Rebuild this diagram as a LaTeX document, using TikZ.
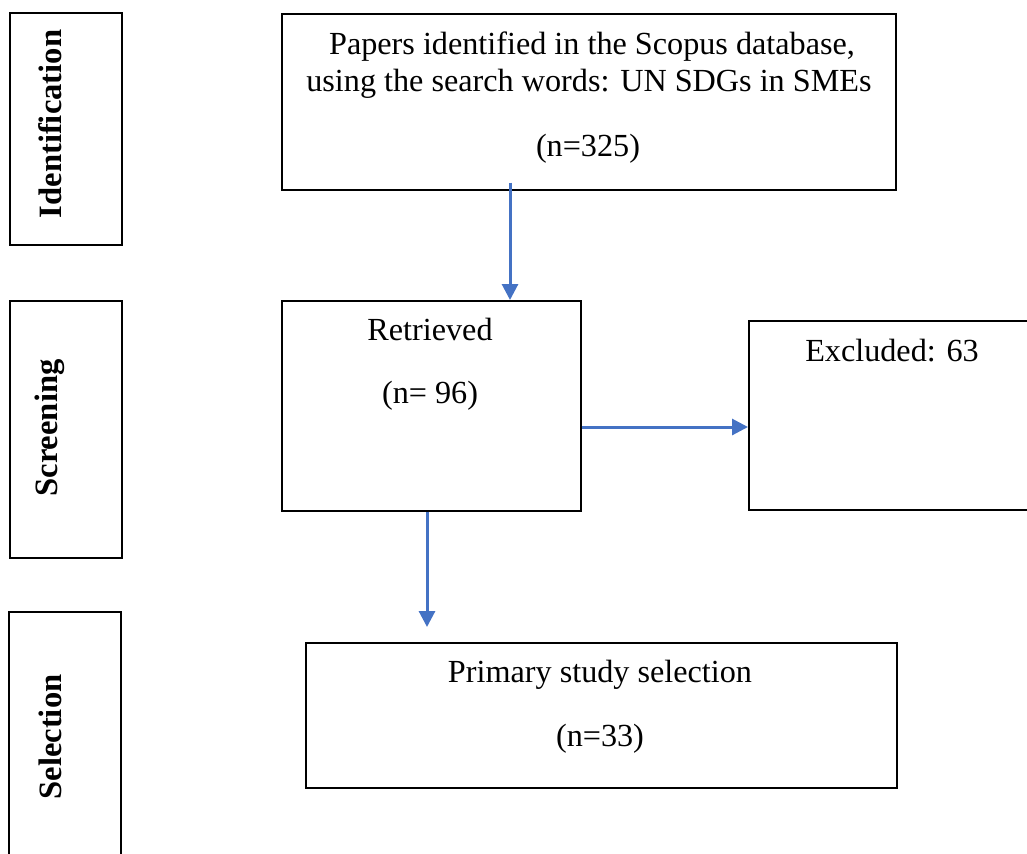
\documentclass[tikz,border=0pt]{standalone}
\usepackage{fontspec}
\setmainfont{Liberation Serif}
\usetikzlibrary{arrows.meta}
\definecolor{arrblue}{RGB}{68,114,196}
\begin{document}
\begin{tikzpicture}[x=0.5pt,y=-0.5pt,
  box/.style={draw, line width=0.75pt, inner sep=0pt, anchor=north west},
  txt/.style={font=\fontsize{16.1}{19}\selectfont, inner sep=0pt, anchor=base},
  side/.style={font=\fontsize{16.3}{19}\selectfont\bfseries, inner sep=0pt, rotate=90},
  arr/.style={draw=arrblue, line width=1.5pt, -{Triangle[length=8pt,width=8pt]}}]
\useasboundingbox (0,0) rectangle (1027,853);
% side boxes
\node[box, minimum width=56pt, minimum height=116pt] (idb) at (9,12) {};
\node[box, minimum width=56pt, minimum height=128.5pt] (scb) at (9,300) {};
\draw[line width=0.75pt] (9,860) -- (9,612) -- (121,612) -- (121,860);
\node[side] (idt) at (50,124) {Identification};
\node[side] (sct) at (50,428) {Screening};
\node[side] (set) at (50,737) {Selection};
% main boxes
\node[box, minimum width=307pt, minimum height=88pt] (papers) at (281,13) {};
\node[box, minimum width=149.5pt, minimum height=105pt] (retr) at (281,300) {};
\node[box, minimum width=141pt, minimum height=94.5pt] (excl) at (748,320) {};
\node[box, minimum width=295.5pt, minimum height=72.5pt] (prim) at (305,642) {};
% texts
\node[txt] (p1) at (592,54) {Papers identified in the Scopus database,};
\node[txt] (p2) at (589,91) {using the search words: UN SDGs in SMEs};
\node[txt] (p3) at (588,156) {(n=325)};
\node[txt] (r1) at (430,340) {Retrieved};
\node[txt] (r2) at (430,403) {(n= 96)};
\node[txt] (e1) at (892,361) {Excluded: 63};
\node[txt] (s1) at (600,682) {Primary study selection};
\node[txt] (s2) at (600,746) {(n=33)};
% connectors
\coordinate (c1) at (510,0);
\coordinate (c2) at (0,427);
\coordinate (c3) at (427,0);
\coordinate (end3) at (427,627);
\draw[arr] ([yshift=4pt]papers.south -| c1) -- (retr.north -| c1);
\draw[arr] (retr.east |- c2) -- (excl.west |- c2);
\draw[arr] (retr.south -| c3) -- (end3);
\end{tikzpicture}
\end{document}
